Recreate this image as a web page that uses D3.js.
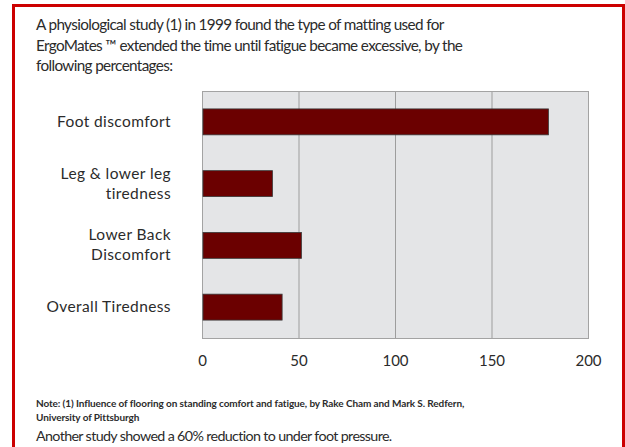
<!DOCTYPE html>
<html>
<head>
<meta charset="utf-8">
<script src="https://cdn.jsdelivr.net/npm/d3@7"></script>
<style>
  body { margin: 0; background: #fff; }
  svg { display: block; font-family: Lato, "Open Sans", sans-serif; }
</style>
</head>
<body>
<svg width="625" height="447"></svg>
<script>
// categories (each label split into its wrapped lines) and values in %
var categories = ["Foot discomfort", "Leg & lower leg tiredness", "Lower Back Discomfort", "Overall Tiredness"];
var labelLines = [["Foot discomfort"], ["Leg & lower leg", "tiredness"], ["Lower Back", "Discomfort"], ["Overall Tiredness"]];
var values = [179, 36, 51, 41];
var ticks = [0, 50, 100, 150, 200];

var titleLines = [
  "A physiological study (1) in 1999 found the type of matting used for",
  "ErgoMates  \u2122 extended the time until fatigue became excessive, by the",
  "following percentages:"
];
var noteLines = [
  "Note: (1) Influence of flooring on standing comfort and fatigue, by Rake Cham and Mark S. Redfern,",
  "University of Pittsburgh"
];
var footer = "Another study showed a 60% reduction to under foot pressure.";

var svg = d3.select("svg");

// red frame (open at the bottom)
svg.append("path")
  .attr("d", "M13.5,447 V5.5 H623.5 V447")
  .attr("fill", "none")
  .attr("stroke", "#cc0000")
  .attr("stroke-width", 3);

svg.append("g")
  .attr("fill", "#2b2b2b")
  .attr("font-size", 15.3)
  .attr("letter-spacing", -0.65)
  .selectAll("text")
  .data(titleLines)
  .enter().append("text")
    .attr("x", 36)
    .attr("y", function(d, i) { return 30 + i * 20.5; })
    .text(function(d) { return d; });

var margin = {left: 202, top: 91, right: 37, bottom: 109},
  width = 625 - margin.left - margin.right,
  height = 447 - margin.top - margin.bottom,
  g = svg.append("g").attr("transform", "translate(" + margin.left + "," + margin.top + ")");

var x = d3.scaleLinear().domain([0, 200]).range([0, width]);
var y = d3.scaleBand().domain(categories).range([0, height]).paddingInner(0.58).paddingOuter(0.29);

g.append("rect")
  .attr("width", width)
  .attr("height", height)
  .attr("fill", "#e4e5e7");

g.append("g")
  .selectAll("line")
  .data(ticks.slice(1, -1))
  .enter().append("line")
    .attr("x1", function(d) { return x(d) + 0.5; })
    .attr("x2", function(d) { return x(d) + 0.5; })
    .attr("y1", 0)
    .attr("y2", height)
    .attr("stroke", "#9d9d9d");

g.append("rect")
  .attr("x", 0.5).attr("y", 0.5)
  .attr("width", width).attr("height", height)
  .attr("fill", "none")
  .attr("stroke", "#a3a3a3");

g.append("g")
  .selectAll("rect")
  .data(values)
  .enter().append("rect")
    .attr("x", x(0) + 1)
    .attr("y", function(d, i) { return y(categories[i]); })
    .attr("width", function(d) { return x(d) - x(0); })
    .attr("height", y.bandwidth())
    .attr("fill", "#6b0000")
    .attr("stroke", "#3a3a3a")
    .attr("stroke-width", 0.8);

// x axis labels
g.append("g")
    .attr("transform", "translate(0," + (height + 25) + ")")
    .call(d3.axisBottom(x).tickValues(ticks).tickSize(0))
    .call(function(a) { a.select(".domain").remove(); })
    .selectAll("text")
    .attr("font-family", "Lato, sans-serif")
    .attr("font-size", 15)
    .attr("fill", "#2b2b2b")
    .attr("dy", 0);

// category labels
var lab = g.append("g")
  .attr("fill", "#2b2b2b")
  .attr("font-size", 15.5)
  .attr("letter-spacing", 0.4)
  .attr("text-anchor", "end")
  .selectAll("text")
  .data(labelLines)
  .enter().append("text")
    .attr("transform", function(d, i) {
      return "translate(-31," + (y(categories[i]) + y.bandwidth() / 2) + ")";
    });
lab.selectAll("tspan")
  .data(function(d) { return d; })
  .enter().append("tspan")
    .attr("x", 0)
    .attr("y", function(d, i, n) { return (i - (n.length - 1) / 2) * 20 + 5; })
    .text(function(d) { return d; });

svg.append("g")
  .attr("fill", "#2b2b2b")
  .attr("font-size", 10)
  .attr("font-weight", "bold")
  .attr("letter-spacing", -0.1)
  .selectAll("text")
  .data(noteLines)
  .enter().append("text")
    .attr("x", 36)
    .attr("y", function(d, i) { return 407 + i * 14; })
    .text(function(d) { return d; });

svg.append("text")
  .attr("x", 36)
  .attr("y", 441)
  .attr("fill", "#2b2b2b")
  .attr("font-size", 14.3)
  .attr("letter-spacing", -0.65)
  .text(footer);
</script>
</body>
</html>
